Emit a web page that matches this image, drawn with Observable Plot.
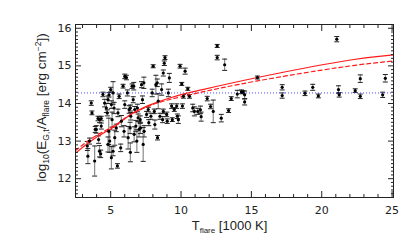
<!DOCTYPE html>
<html><head><meta charset="utf-8">
<script src="https://cdn.jsdelivr.net/npm/d3@7"></script>
<script src="https://cdn.jsdelivr.net/npm/@observablehq/plot@0.6"></script>
<style>body{margin:0;background:#fff}</style>
</head><body><div id="chart"></div>
<script>
// Flare temperature (1000 K)
const temperature = [3.34,3.38,3.50,3.67,3.86,3.90,4.10,4.21,4.33,4.14,4.21,4.29,4.45,4.57,4.69,4.76,4.81,4.86,4.93,5.00,
5.05,5.10,5.17,5.17,5.24,5.29,5.40,5.48,5.52,5.60,5.71,5.76,5.88,5.95,6.00,6.12,6.19,6.24,6.31,6.38,
6.43,6.52,6.60,6.67,6.71,6.79,6.86,6.90,6.95,7.02,7.10,7.19,7.26,7.31,7.38,7.55,7.67,7.86,7.95,8.02,
8.10,8.14,8.21,8.33,8.38,8.50,8.62,8.74,8.81,8.86,8.74,8.69,8.98,9.10,9.17,9.33,9.52,9.69,9.81,9.93,
10.05,10.17,10.10,5.05,4.88,10.29,10.48,10.60,10.83,10.95,11.19,11.38,11.43,11.86,12.10,12.29,12.57,12.57,12.86,13.10,
13.38,13.57,14.00,14.29,14.40,14.52,14.52,15.43,17.19,17.19,18.81,19.36,19.76,21.07,21.19,21.24,22.38,22.74,22.74,24.33,
24.52,6.64,7.36,8.31,6.40,6.40,7.12,7.71,9.02,9.38,9.74,3.62,6.00,3.98,4.33,4.81];
// log10(E_G,t / A_flare)
const logFluence = [12.87,12.60,13.00,13.75,12.47,13.31,13.60,13.57,13.60,13.04,12.73,12.66,14.24,14.01,13.88,13.75,14.10,13.26,13.00,14.37,
13.97,13.57,14.28,12.73,13.88,13.09,13.35,12.34,13.75,14.19,12.82,13.53,14.46,13.26,13.97,14.69,14.28,13.09,13.84,13.35,
13.66,14.46,14.10,13.18,13.84,13.40,13.00,13.88,13.62,13.31,13.57,14.50,14.10,12.91,13.26,13.71,13.84,13.66,14.28,14.99,
13.79,13.44,14.50,13.09,14.06,13.66,14.37,14.81,15.07,15.22,13.79,13.57,13.71,14.28,14.68,13.93,13.84,13.93,13.57,14.99,
14.52,14.19,13.93,12.56,14.23,14.86,14.39,14.19,13.88,13.79,13.79,13.83,13.65,14.13,13.92,13.79,15.53,15.22,13.61,15.03,
13.81,14.13,14.25,14.31,14.30,14.23,14.04,14.69,14.43,14.21,14.27,14.43,14.20,15.71,14.37,14.23,14.34,14.66,14.19,14.23,
14.67,14.46,14.55,14.55,13.88,12.70,13.35,13.49,13.53,13.57,13.66,14.01,14.72,13.31,13.40,12.91];
// uncertainty
const fluenceErr = [0.12,0.20,0.08,0.05,0.40,0.08,0.06,0.08,0.06,0.10,0.15,0.10,0.06,0.10,0.12,0.08,0.10,0.35,0.30,0.06,
0.10,0.20,0.30,0.12,0.15,0.20,0.10,0.06,0.10,0.06,0.10,0.15,0.05,0.15,0.10,0.06,0.08,0.30,0.10,0.15,
0.10,0.06,0.08,0.20,0.08,0.15,0.30,0.10,0.10,0.20,0.10,0.08,0.10,0.45,0.15,0.08,0.06,0.08,0.10,0.04,
0.06,0.12,0.25,0.06,0.20,0.08,0.15,0.08,0.06,0.05,0.06,0.08,0.06,0.10,0.12,0.06,0.05,0.06,0.10,0.05,
0.04,0.05,0.06,0.30,0.06,0.08,0.04,0.05,0.10,0.12,0.08,0.10,0.12,0.06,0.06,0.30,0.04,0.06,0.10,0.15,
0.05,0.05,0.10,0.05,0.04,0.10,0.08,0.04,0.07,0.07,0.06,0.08,0.05,0.07,0.10,0.06,0.05,0.10,0.06,0.07,
0.10,0.10,0.15,0.10,0.08,0.25,0.15,0.08,0.06,0.05,0.06,0.06,0.06,0.10,0.08,0.20];
// model curves
const fitT = [2.5,3.86,5.29,6.27,7.71,9.14,10.29,11.43,15.43,21.3,25.1];
const fitSolid = [12.68,13.07,13.39,13.67,13.95,14.14,14.26,14.36,14.69,15.11,15.29];
const fitDashed = [12.75,13.12,13.42,13.67,13.93,14.10,14.20,14.30,14.60,14.96,15.13];
const referenceLevel = 14.28;
const xTicks = [5,10,15,20,25];
const xMinor = [3,4,6,7,8,9,11,12,13,14,16,17,18,19,21,22,23,24];
const yTicks = [12,13,14,15,16];
const yMinor = d3.range(116,161).map(d => d/10).filter(d => Math.abs(d - Math.round(d)) > 1e-6);

const points = temperature.map((t,i) => ({t, v: logFluence[i], e: fluenceErr[i]}));
const fit = fitT.map((t,i) => ({t, solid: fitSolid[i], dashed: fitDashed[i]}));
const cap = {draw(ctx){ ctx.moveTo(-2.5,0); ctx.lineTo(2.5,0); }};
const noText = () => "";

const chart = Plot.plot({
  width: 415, height: 245,
  marginLeft: 75, marginRight: 22, marginTop: 24, marginBottom: 48,
  style: {fontFamily: "DejaVu Sans", fontSize: "11px", color: "#222", background: "#fff"},
  x: {domain: [2.5, 25.1]},
  y: {domain: [11.5, 16.1]},
  marks: [
    Plot.ruleX(points, {x: "t", y1: d => d.v - d.e, y2: d => d.v + d.e, stroke: "#8a8a8a", strokeWidth: 1.2}),
    Plot.dot(points, {x: "t", y: d => d.v + d.e, symbol: cap, stroke: "#222", strokeWidth: 1}),
    Plot.dot(points, {x: "t", y: d => d.v - d.e, symbol: cap, stroke: "#222", strokeWidth: 1}),
    Plot.ruleY([referenceLevel], {stroke: "#4a4aff", strokeWidth: 1, strokeDasharray: "1,2"}),
    Plot.line(fit, {x: "t", y: "solid", stroke: "#ff1a1a", strokeWidth: 1.2, curve: "natural"}),
    Plot.line(fit, {x: "t", y: "dashed", stroke: "#ff1a1a", strokeWidth: 1.2, strokeDasharray: "4,3", curve: "natural"}),
    Plot.dot(points, {x: "t", y: "v", r: 1.6, fill: "#000"}),
    Plot.frame({stroke: "#222"}),
    Plot.axisX(xTicks, {anchor: "bottom", tickSize: -6, tickFormat: noText, label: null}),
    Plot.axisX(xMinor, {anchor: "bottom", tickSize: -3, tickFormat: noText, label: null}),
    Plot.axisX(xTicks, {anchor: "top", tickSize: -6, tickFormat: noText, label: null}),
    Plot.axisX(xMinor, {anchor: "top", tickSize: -3, tickFormat: noText, label: null}),
    Plot.axisX(xTicks, {anchor: "bottom", tickSize: 0, tickPadding: 9, label: null}),
    Plot.axisY(yTicks, {anchor: "left", tickSize: -6, tickFormat: noText, label: null}),
    Plot.axisY(yMinor, {anchor: "left", tickSize: -3, tickFormat: noText, label: null}),
    Plot.axisY(yTicks, {anchor: "right", tickSize: -6, tickFormat: noText, label: null}),
    Plot.axisY(yMinor, {anchor: "right", tickSize: -3, tickFormat: noText, label: null}),
    Plot.axisY(yTicks, {anchor: "left", tickSize: 0, tickPadding: 4, label: null})
  ]
});

const svg = d3.select(chart);
const titleFont = "'Liberation Sans', Arial, sans-serif";
const yt = svg.append("text")
  .attr("transform", "translate(46,107.5) rotate(-90)")
  .attr("text-anchor", "middle").attr("fill", "#222")
  .style("font-family", titleFont).style("font-size", "13.5px");
yt.append("tspan").text("log");
yt.append("tspan").attr("dy", 3).style("font-size", "8.5px").text("10");
yt.append("tspan").attr("dy", -3).text("(E");
yt.append("tspan").attr("dy", 3).style("font-size", "8.5px").text("G,t");
yt.append("tspan").attr("dy", -3).text("/A");
yt.append("tspan").attr("dy", 3).style("font-size", "8.5px").text("flare");
yt.append("tspan").attr("dy", -3).text(" [erg cm");
yt.append("tspan").attr("dy", -5).style("font-size", "8.5px").text("\u22122");
yt.append("tspan").attr("dy", 5).text("])");

const xt = svg.append("text")
  .attr("transform", "translate(229.5,229.5)")
  .attr("text-anchor", "middle").attr("fill", "#222")
  .style("font-family", titleFont).style("font-size", "13px");
xt.append("tspan").text("T");
xt.append("tspan").attr("dy", 3).style("font-size", "8px").text("flare");
xt.append("tspan").attr("dy", -3).text(" [1000 K]");

document.getElementById("chart").appendChild(chart);
</script>
</body></html>
